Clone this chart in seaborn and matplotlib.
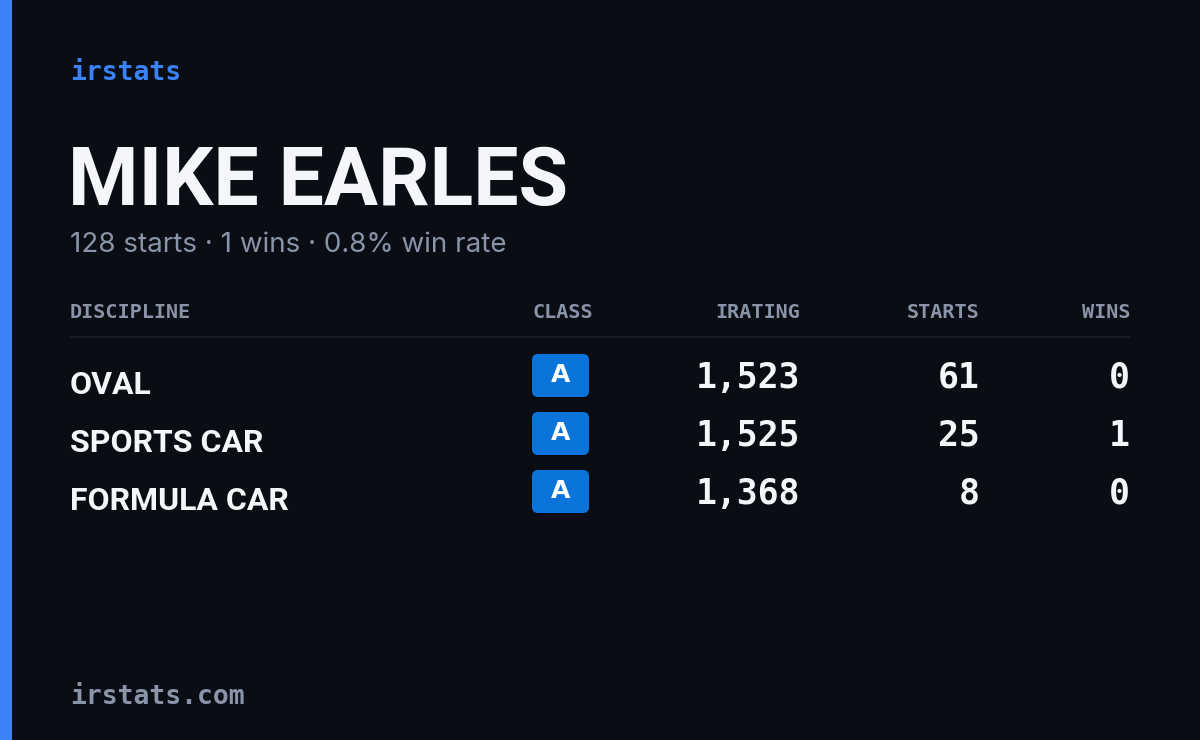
import matplotlib
matplotlib.use("Agg")
import matplotlib.pyplot as plt
import seaborn as sns
from matplotlib.patches import FancyBboxPatch, Rectangle

sns.set_theme(style="white")
plt.rcParams['font.family'] = ['DejaVu Sans']

name = "MIKE EARLES"
subtitle = "128 starts · 1 wins · 0.8% win rate"
headers = ["DISCIPLINE", "CLASS", "IRATING", "STARTS", "WINS"]
disciplines = ["OVAL", "SPORTS CAR", "FORMULA CAR"]
classes = ["A", "A", "A"]
iratings = [1523, 1525, 1368]
starts = [61, 25, 8]
wins = [0, 1, 0]

BG = "#0a0d14"
fig = plt.figure(figsize=(12, 7.4), dpi=100, facecolor=BG)
ax = fig.add_axes([0, 0, 1, 1])
ax.set_facecolor(BG)
ax.set_xlim(0, 1200)
ax.set_ylim(740, 0)
ax.axis("off")

ax.add_patch(Rectangle((0, 0), 12, 740, color="#3b82f6", lw=0))
mono = "DejaVu Sans Mono"
cond = ["Roboto", "DejaVu Sans"]
ax.text(70, 73, "irstats", color="#3b82f6", fontsize=19, family=mono, weight="bold", va="center")
ax.text(68, 183, name, color="#f5f6fa", fontsize=58, family=cond, weight="bold", stretch="condensed", va="center")
ax.text(70, 245, subtitle, color="#8a94a8", fontsize=20, family="Inter", va="center")

hx = [70, 593, 800, 980, 1130]
ha = ["left", "right", "right", "right", "right"]
for x, h, a in zip(hx, headers, ha):
    ax.text(x, 313, h, color="#8a94a8", fontsize=14.5, family=mono, weight="bold", ha=a, va="center")
ax.plot([70, 1130], [337, 337], color="#1c212c", lw=1.2)

for i, (d, c, ir, s, w) in enumerate(zip(disciplines, classes, iratings, starts, wins)):
    y = 380 + i * 58
    ax.text(70, y + 5, d, color="#f5f6fa", fontsize=23, family=cond, weight="bold", stretch="condensed", va="center")
    ax.add_patch(FancyBboxPatch((532, y - 26), 57, 43, boxstyle="round,pad=0,rounding_size=6",
                                color="#0a74da", lw=0))
    ax.text(560.5, y - 5, c, color="white", fontsize=18, weight="bold", ha="center", va="center")
    ax.text(800, y - 2, f"{ir:,}", color="#f5f6fa", fontsize=25, family=mono, weight="bold", ha="right", va="center")
    ax.text(980, y - 2, str(s), color="#f5f6fa", fontsize=25, family=mono, weight="bold", ha="right", va="center")
    ax.text(1130, y - 2, str(w), color="#f5f6fa", fontsize=25, family=mono, weight="bold", ha="right", va="center")

ax.text(70, 697, "irstats.com", color="#8a94a8", fontsize=19, family=mono, weight="bold", va="center")
fig.savefig("out.png", dpi=100, facecolor=BG)
